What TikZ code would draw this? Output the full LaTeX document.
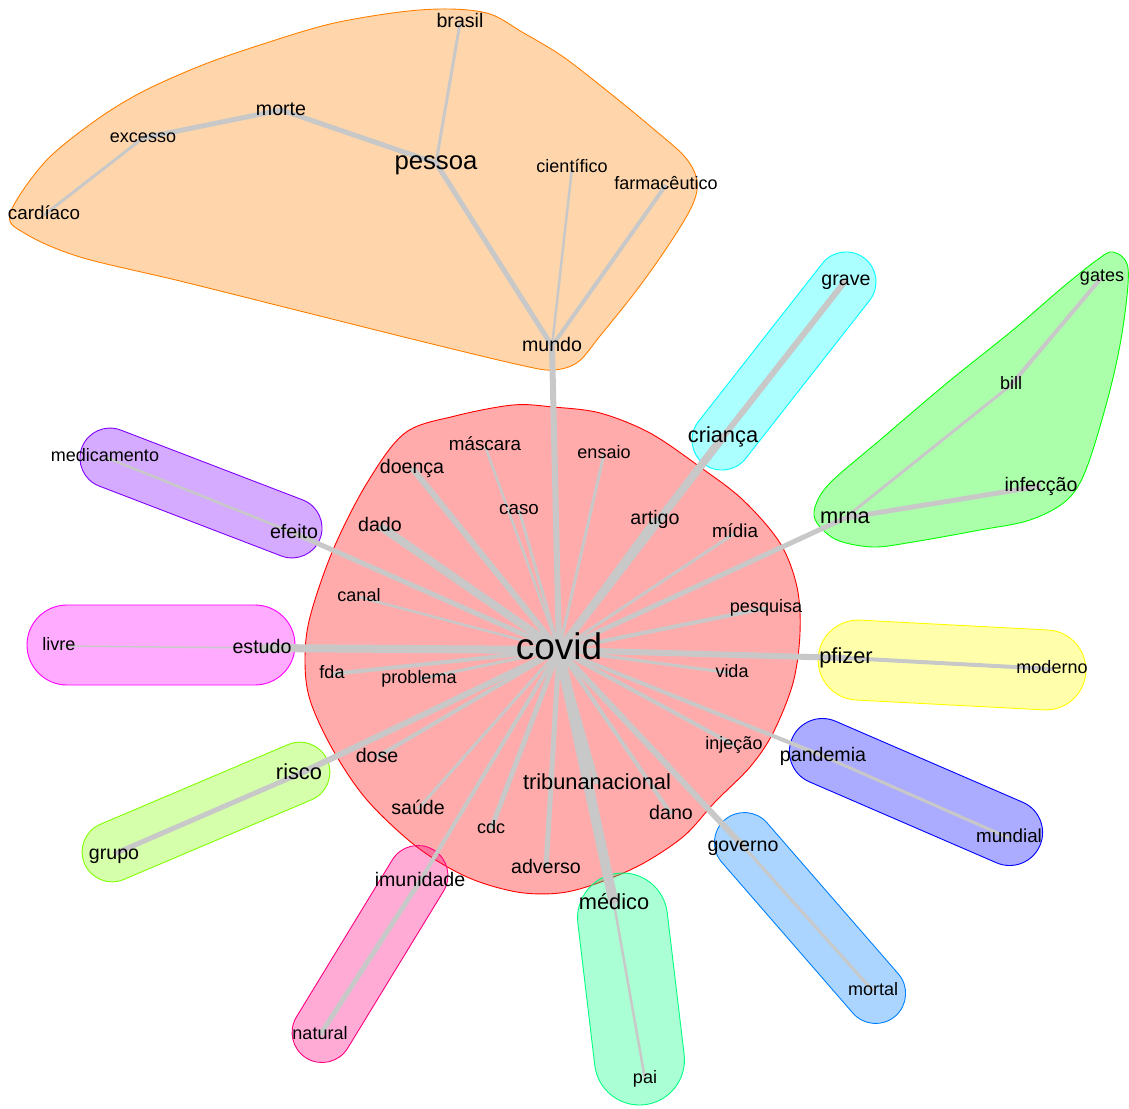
\documentclass[tikz,border=0pt]{standalone}
\usepackage{fontspec}
\setmainfont{Liberation Sans}
\usetikzlibrary{shapes.misc}
\definecolor{edgegray}{RGB}{200,200,200}
\definecolor{rbred}{RGB}{255,0,0}
\definecolor{rborange}{RGB}{255,128,0}
\definecolor{rbyellow}{RGB}{255,255,0}
\definecolor{rblime}{RGB}{128,255,0}
\definecolor{rbgreen}{RGB}{0,255,0}
\definecolor{rbmint}{RGB}{0,255,128}
\definecolor{rbcyan}{RGB}{0,255,255}
\definecolor{rbsky}{RGB}{0,128,255}
\definecolor{rbblue}{RGB}{0,0,255}
\definecolor{rbpurple}{RGB}{128,0,255}
\definecolor{rbmagenta}{RGB}{255,0,255}
\definecolor{rbpink}{RGB}{255,0,128}
\pgfdeclarelayer{back}
\pgfdeclarelayer{links}
\pgfsetlayers{back,links,main}
\tikzstyle{hull}=[draw, fill opacity=0.33, line width=0.9pt]
\tikzstyle{blob}=[hull, rounded rectangle, inner sep=0pt]
\tikzstyle{every edge}=[draw, edgegray]
\tikzstyle{wa}=[inner sep=0pt, font=\fontsize{18}{20}\selectfont, text height=13pt, text depth=3.8pt]
\tikzstyle{wb}=[inner sep=0pt, font=\fontsize{18.8}{21}\selectfont, text height=13.5pt, text depth=4pt]
\tikzstyle{wc}=[inner sep=0pt, font=\fontsize{19.6}{22}\selectfont, text height=14.1pt, text depth=4.1pt]
\tikzstyle{wd}=[inner sep=0pt, font=\fontsize{21.8}{24}\selectfont, text height=15.7pt, text depth=4.6pt]
\tikzstyle{we}=[inner sep=0pt, font=\fontsize{25.7}{28}\selectfont, text height=18.5pt, text depth=5.4pt]
\tikzstyle{wf}=[inner sep=0pt, font=\fontsize{37}{40}\selectfont, text height=26.6pt, text depth=7.8pt]
\tikzstyle{lw1}=[line width=1.5pt]
\tikzstyle{lw2}=[line width=2.5pt]
\tikzstyle{lw3}=[line width=3pt]
\tikzstyle{lw4}=[line width=4pt]
\tikzstyle{lw5}=[line width=5pt]
\tikzstyle{lw6}=[line width=6pt]
\tikzstyle{lw8}=[line width=8pt]
\tikzstyle{lw10}=[line width=10pt]

\begin{document}
\begin{tikzpicture}[x=1pt,y=-1pt]
	\useasboundingbox (0,0) rectangle (1129,1108);

	% words
	\node[wf] (covid) at (559,650) {covid};
	\node[wc] (mundo) at (552,346) {mundo};
	\node[we] (pessoa) at (436,163) {pessoa};
	\node[wc] (brasil) at (460,23) {brasil};
	\node[wc] (morte) at (281,110) {morte};
	\node[wa] (excesso) at (143,138) {excesso};
	\node[wb] (cardiaco) at (44,215) {cardíaco};
	\node[wa] (cientifico) at (572,168) {científico};
	\node[wa] (farmaceutico) at (666,185) {farmacêutico};
	\node[wd] (crianca) at (723,437) {criança};
	\node[wc] (grave) at (846,280) {grave};
	\node[wd] (mrna) at (845,518) {mrna};
	\node[wc] (infeccao) at (1041,486) {infecção};
	\node[wa] (bill) at (1011,385) {bill};
	\node[wa] (gates) at (1102,277) {gates};
	\node[wa] (medicamento) at (105,457) {medicamento};
	\node[wc] (efeito) at (294,533) {efeito};
	\node[wa] (livre) at (59,646) {livre};
	\node[wc] (estudo) at (262,648) {estudo};
	\node[wd] (risco) at (299,774) {risco};
	\node[wc] (grupo) at (114,854) {grupo};
	\node[wd] (pfizer) at (846,658) {pfizer};
	\node[wa] (moderno) at (1052,669) {moderno};
	\node[wc] (pandemia) at (823,756) {pandemia};
	\node[wb] (mundial) at (1009,838) {mundial};
	\node[wc] (governo) at (743,846) {governo};
	\node[wa] (mortal) at (873,991) {mortal};
	\node[wd] (medico) at (614,904) {médico};
	\node[wa] (pai) at (645,1079) {pai};
	\node[wc] (imunidade) at (420,881) {imunidade};
	\node[wa] (natural) at (320,1035) {natural};
	\node[wb] (mascara) at (485,446) {máscara};
	\node[wa] (ensaio) at (604,454) {ensaio};
	\node[wc] (doenca) at (412,468) {doença};
	\node[wb] (caso) at (519,510) {caso};
	\node[wc] (artigo) at (655,519) {artigo};
	\node[wb] (midia) at (735,533) {mídia};
	\node[wc] (dado) at (380,526) {dado};
	\node[wa] (canal) at (359,597) {canal};
	\node[wa] (pesquisa) at (766,608) {pesquisa};
	\node[wa] (fda) at (332,674) {fda};
	\node[wa] (problema) at (419,679) {problema};
	\node[wa] (vida) at (732,673) {vida};
	\node[wa] (injecao) at (734,745) {injeção};
	\node[wc] (dose) at (377,757) {dose};
	\node[wd] (tribuna) at (597,784) {tribunanacional};
	\node[wc] (saude) at (418,809) {saúde};
	\node[wa] (cdc) at (491,829) {cdc};
	\node[wc] (dano) at (671,814) {dano};
	\node[wc] (adverso) at (546,868) {adverso};

	% groups
	\begin{pgfonlayer}{back}
		\draw[hull, draw=rborange, fill=rborange] plot[smooth cycle, tension=0.55] coordinates {
			(10,214) (44,163) (92,123) (140,93) (200,66) (260,45) (330,24) (400,12) (450,9)
			(490,14) (522,32) (562,56) (606,90) (650,126) (685,157) (697,181) (692,206)
			(668,246) (636,291) (600,336) (578,362) (553,370) (520,365) (420,341) (300,311)
			(180,281) (80,257) (26,234)};
		\draw[hull, draw=rbred, fill=rbred] plot[smooth cycle, tension=0.55] coordinates {
			(513,405) (455,416) (405,433) (367,483) (333,550) (310,617) (305,660) (310,700)
			(333,750) (367,800) (417,847) (467,877) (517,892) (560,893) (598,883) (642,864)
			(684,836) (715,802) (750,767) (773,733) (793,683) (800,633) (797,587) (780,543)
			(743,500) (700,467) (650,433) (600,413) (553,407)};
		\draw[hull, draw=rbgreen, fill=rbgreen] plot[smooth cycle, tension=0.55] coordinates {
			(1113,252) (1128,268) (1123,327) (1110,390) (1087,467) (1067,500) (1030,520)
			(980,530) (913,542) (873,547) (837,540) (817,523) (815,507) (830,483) (880,440)
			(947,383) (1013,330) (1063,287) (1097,260)};
		\node[blob, draw=rbcyan, fill=rbcyan, minimum width=261pt, minimum height=60pt, rotate=51.9] (hgrave) at (784,361) {};
		\node[blob, draw=rbpurple, fill=rbpurple, minimum width=255pt, minimum height=60pt, rotate=-21] (hefeito) at (201,493) {};
		\node[blob, draw=rbmagenta, fill=rbmagenta, minimum width=268pt, minimum height=80pt] (hestudo) at (161,645) {};
		\node[blob, draw=rblime, fill=rblime, minimum width=264pt, minimum height=60pt, rotate=23] (hrisco) at (206,812) {};
		\node[blob, draw=rbyellow, fill=rbyellow, minimum width=268pt, minimum height=80pt, rotate=-3] (hpfizer) at (952,665) {};
		\node[blob, draw=rbblue, fill=rbblue, minimum width=270pt, minimum height=66pt, rotate=-23.4] (hpandemia) at (916,792) {};
		\node[blob, draw=rbsky, fill=rbsky, minimum width=260pt, minimum height=60pt, rotate=-49] (hgoverno) at (810,918) {};
		\node[blob, draw=rbmint, fill=rbmint, minimum width=233pt, minimum height=90pt, rotate=-83.2] (hmedico) at (631,989) {};
		\node[blob, draw=rbpink, fill=rbpink, minimum width=244pt, minimum height=60pt, rotate=58.6] (himunidade) at (370,954) {};
	\end{pgfonlayer}

	% links
	\begin{pgfonlayer}{links}
		\path (covid.center) edge[lw6] (mundo.center)
		      (covid.center) edge[lw8] (crianca.center)
		      (covid.center) edge[lw6] (artigo.center)
		      (covid.center) edge[lw8] (dado.center)
		      (covid.center) edge[lw6] (doenca.center)
		      (covid.center) edge[lw2] (mascara.center)
		      (covid.center) edge[lw3] (caso.center)
		      (covid.center) edge[lw3] (ensaio.center)
		      (covid.center) edge[lw3] (midia.center)
		      (covid.center) edge[lw5] (mrna.center)
		      (covid.center) edge[lw4] (pesquisa.center)
		      (covid.center) edge[lw6] (pfizer.center)
		      (covid.center) edge[lw3] (vida.center)
		      (covid.center) edge[lw4] (injecao.center)
		      (covid.center) edge[lw4] (pandemia.center)
		      (covid.center) edge[lw6] (governo.center)
		      (covid.center) edge[lw4] (dano.center)
		      (covid.center) edge[lw10] (medico.center)
		      (covid.center) edge[lw5] (tribuna.center)
		      (covid.center) edge[lw5] (adverso.center)
		      (covid.center) edge[lw5] (cdc.center)
		      (covid.center) edge[lw4] (imunidade.center)
		      (covid.center) edge[lw3] (saude.center)
		      (covid.center) edge[lw4] (dose.center)
		      (covid.center) edge[lw6] (risco.center)
		      (covid.center) edge[lw3] (problema.center)
		      (covid.center) edge[lw4] (fda.center)
		      (covid.center) edge[lw8] (estudo.center)
		      (covid.center) edge[lw2] (canal.center)
		      (covid.center) edge[lw5] (efeito.center);
		\path (mundo.center) edge[lw5] (pessoa.center)
		      (pessoa.center) edge[lw3] (brasil.center)
		      (pessoa.center) edge[lw5] (morte.center)
		      (morte.center) edge[lw5] (excesso.center)
		      (excesso.center) edge[lw3] (cardiaco.center)
		      (mundo.center) edge[lw2] (cientifico.center)
		      (mundo.center) edge[lw4] (farmaceutico.center)
		      (crianca.center) edge[lw6] (grave.center)
		      (mrna.center) edge[lw3] (bill.center)
		      (bill.center) edge[lw4] (gates.center)
		      (mrna.center) edge[lw5] (infeccao.center)
		      (efeito.center) edge[lw2] (medicamento.center)
		      (estudo.center) edge[lw1] (livre.center)
		      (risco.center) edge[lw5] (grupo.center)
		      (pfizer.center) edge[lw4] (moderno.center)
		      (pandemia.center) edge[lw3] (mundial.center)
		      (governo.center) edge[lw3] (mortal.center)
		      (medico.center) edge[lw2] (pai.center)
		      (imunidade.center) edge[lw5] (natural.center);
	\end{pgfonlayer}
\end{tikzpicture}
\end{document}
